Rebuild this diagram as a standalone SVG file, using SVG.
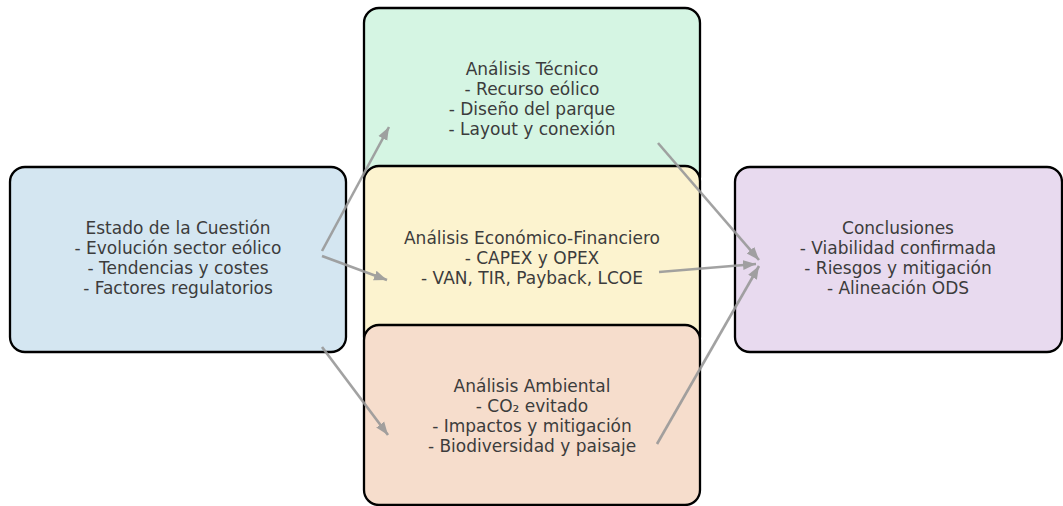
<svg xmlns="http://www.w3.org/2000/svg" width="1063" height="506" viewBox="0 0 1063 506">
<style>
.box{stroke:#000;stroke-width:2.3}
.t{font-family:"DejaVu Sans",sans-serif;font-size:17px;fill:#3c3c3c;text-anchor:middle}
.c{stroke:#999;stroke-width:2.6;fill:none;opacity:0.9}
</style>
<defs>
<marker id="ah" markerUnits="userSpaceOnUse" markerWidth="14" markerHeight="12" viewBox="0 0 14 12" refX="13" refY="6" orient="auto">
<path d="M0,1 L13,6 L0,11 Z" fill="#999"/>
</marker>
</defs>
<rect width="1063" height="506" fill="#fff"/>
<g id="estado">
<rect class="box" x="10" y="167" width="336" height="185" rx="15" fill="#d4e6f1"/>
<text class="t" x="178" y="234">Estado de la Cuestión</text>
<text class="t" x="178" y="254">- Evolución sector eólico</text>
<text class="t" x="178" y="274">- Tendencias y costes</text>
<text class="t" x="178" y="294">- Factores regulatorios</text>
</g>
<g id="tecnico">
<rect class="box" x="364" y="8" width="336" height="184" rx="15" fill="#d5f5e3"/>
<text class="t" x="532" y="75">Análisis Técnico</text>
<text class="t" x="532" y="95">- Recurso eólico</text>
<text class="t" x="532" y="115">- Diseño del parque</text>
<text class="t" x="532" y="135">- Layout y conexión</text>
</g>
<g id="economico">
<rect class="box" x="364" y="166" width="336" height="186" rx="15" fill="#fcf3cf"/>
<text class="t" x="532" y="244">Análisis Económico-Financiero</text>
<text class="t" x="532" y="264">- CAPEX y OPEX</text>
<text class="t" x="532" y="284">- VAN, TIR, Payback, LCOE</text>
</g>
<g id="ambiental">
<rect class="box" x="364" y="325" width="336" height="180" rx="15" fill="#f6ddcc"/>
<text class="t" x="532" y="392">Análisis Ambiental</text>
<text class="t" x="532" y="412">- CO₂ evitado</text>
<text class="t" x="532" y="432">- Impactos y mitigación</text>
<text class="t" x="532" y="452">- Biodiversidad y paisaje</text>
</g>
<g id="conclusiones">
<rect class="box" x="735" y="167" width="327" height="185" rx="15" fill="#e8daef"/>
<text class="t" x="898" y="234">Conclusiones</text>
<text class="t" x="898" y="254">- Viabilidad confirmada</text>
<text class="t" x="898" y="274">- Riesgos y mitigación</text>
<text class="t" x="898" y="294">- Alineación ODS</text>
</g>
<g id="connectors">
<line class="c" x1="322" y1="251" x2="389" y2="127" marker-end="url(#ah)"/>
<line class="c" x1="322" y1="256" x2="387" y2="280" marker-end="url(#ah)"/>
<line class="c" x1="322" y1="347" x2="388" y2="435" marker-end="url(#ah)"/>
<line class="c" x1="658" y1="143" x2="759" y2="260" marker-end="url(#ah)"/>
<line class="c" x1="659" y1="272" x2="756" y2="264" marker-end="url(#ah)"/>
<line class="c" x1="657" y1="444" x2="759" y2="266" marker-end="url(#ah)"/>
</g>
</svg>
